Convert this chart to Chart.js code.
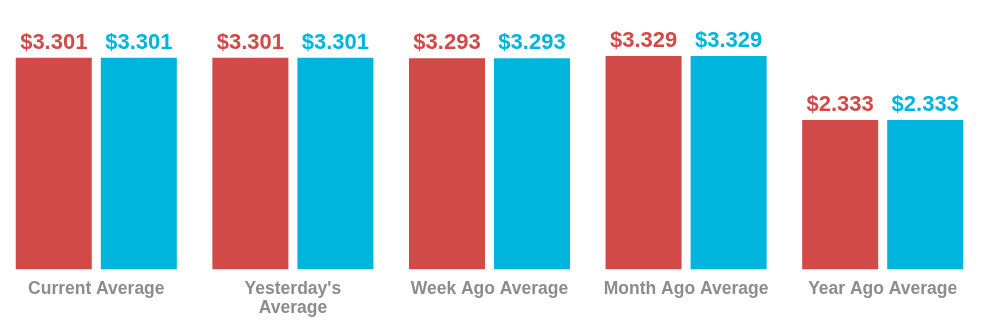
<!DOCTYPE html>
<html>
<head>
<meta charset="utf-8">
<script src="https://cdn.jsdelivr.net/npm/chart.js@4.4.0/dist/chart.umd.min.js"></script>
<style>
  html, body { margin: 0; padding: 0; background: #fff; overflow: hidden; }
  #wrap { position: relative; left: -2px; width: 986px; height: 335px; }
</style>
</head>
<body>
<div id="wrap"><canvas id="myChart"></canvas></div>
<script>
var categories = ['Current Average', ["Yesterday's", 'Average'], 'Week Ago Average', 'Month Ago Average', 'Year Ago Average'];
var regularPrices = [3.301, 3.301, 3.293, 3.329, 2.333];
var otherPrices = [3.301, 3.301, 3.293, 3.329, 2.333];

var red = 'rgb(209, 74, 71)';
var cyan = 'rgb(0, 181, 221)';

// draws the $ value above each bar
var valueLabels = {
  id: 'valueLabels',
  afterDatasetsDraw: function(chart) {
    var ctx = chart.ctx;
    ctx.save();
    ctx.font = 'bold 22px "Liberation Sans", Arial, Helvetica, sans-serif';
    ctx.textAlign = 'center';
    ctx.textBaseline = 'alphabetic';
    chart.data.datasets.forEach(function(ds, i) {
      var meta = chart.getDatasetMeta(i);
      ctx.fillStyle = ds.backgroundColor;
      meta.data.forEach(function(bar, j) {
        ctx.fillText('$' + ds.data[j].toFixed(3), bar.x, bar.y - 9);
      });
    });
    ctx.restore();
  }
};

var myChart = document.getElementById('myChart').getContext('2d');
var PriceChart = new Chart(myChart, {
  type: 'bar',
  data: {
    labels: categories,
    datasets: [{
      label: 'Regular',
      data: regularPrices,
      backgroundColor: red
    }, {
      label: 'Other',
      data: otherPrices,
      backgroundColor: cyan
    }]
  },
  options: {
    responsive: true,
    maintainAspectRatio: false,
    animation: false,
    categoryPercentage: 0.865,
    barPercentage: 0.894,
    layout: { padding: { left: 0, right: 3, top: 13, bottom: 15 } },
    plugins: {
      legend: { display: false },
      tooltip: { enabled: false }
    },
    scales: {
      x: {
        grid: { display: false },
        border: { display: false },
        ticks: {
          color: '#8c8c8c',
          padding: 2,
          maxRotation: 0,
          autoSkip: false,
          font: { family: '"Liberation Sans", Arial, Helvetica, sans-serif', size: 17.5, weight: 'bold', lineHeight: 1.1 }
        }
      },
      y: {
        display: false,
        min: 0,
        max: 4
      }
    }
  },
  plugins: [valueLabels]
});
</script>
</body>
</html>
